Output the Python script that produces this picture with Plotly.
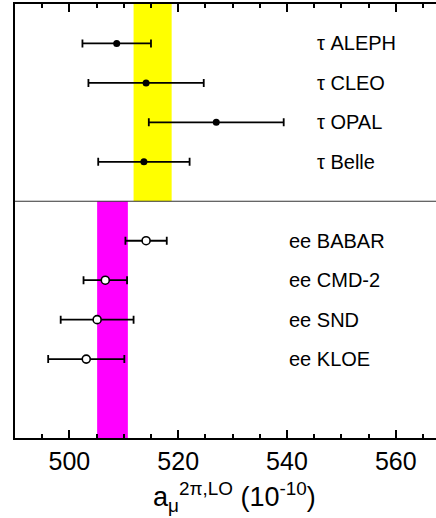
import plotly.graph_objects as go

# tau-based measurements (top panel)
tau_labels = ["τ ALEPH", "τ CLEO", "τ OPAL", "τ Belle"]
tau_vals = [508.7, 514.1, 527.0, 513.7]
tau_err = [6.3, 10.6, 12.4, 8.4]
tau_rows = [1, 2, 3, 4]

# e+e- based measurements (bottom panel)
ee_labels = ["ee BABAR", "ee CMD-2", "ee SND", "ee KLOE"]
ee_vals = [514.1, 506.6, 505.1, 503.1]
ee_err = [3.8, 4.0, 6.7, 7.0]
ee_rows = [6, 7, 8, 9]

# averages (bands)
tau_band = [511.8, 518.8]
ee_band = [505.1, 510.75]

x_ticks = [500, 520, 540, 560]

FONT = "Liberation Sans, Arial, sans-serif"

fig = go.Figure()

fig.add_trace(go.Scatter(
    x=tau_vals, y=tau_rows, mode="markers",
    marker=dict(symbol="circle", size=7, color="black"),
    error_x=dict(type="data", array=tau_err, color="black", thickness=1.8, width=4),
    showlegend=False, cliponaxis=False,
))
fig.add_trace(go.Scatter(
    x=ee_vals, y=ee_rows, mode="markers",
    marker=dict(symbol="circle", size=8, color="white", line=dict(color="black", width=1.6)),
    error_x=dict(type="data", array=ee_err, color="black", thickness=1.8, width=4),
    showlegend=False, cliponaxis=False,
))

fig.add_shape(type="rect", xref="x", yref="y", x0=tau_band[0], x1=tau_band[1], y0=0, y1=5,
              fillcolor="#FFFF00", line=dict(width=0), layer="below")
fig.add_shape(type="rect", xref="x", yref="y", x0=ee_band[0], x1=ee_band[1], y0=5, y1=11,
              fillcolor="#FF00FF", line=dict(width=0), layer="below")
fig.add_shape(type="line", xref="paper", yref="y", x0=0, x1=1, y0=5, y1=5,
              line=dict(color="#333333", width=1.2))

for lab, r in zip(tau_labels, tau_rows):
    fig.add_annotation(x=545.1, y=r, text=lab, xref="x", yref="y", showarrow=False,
                       xanchor="left", yanchor="middle", font=dict(size=20, color="black", family=FONT))
for lab, r in zip(ee_labels, ee_rows):
    fig.add_annotation(x=540.0, y=r, text=lab, xref="x", yref="y", showarrow=False,
                       xanchor="left", yanchor="middle", font=dict(size=20, color="black", family=FONT))

fig.add_annotation(x=530.3, y=-0.135, xref="x", yref="paper", yanchor="middle",
                   text="a<sub>μ</sub><sup>2π,LO</sup> (10<sup>-10</sup>)", showarrow=False,
                   font=dict(size=27, color="black", family=FONT))

fig.update_xaxes(
    range=[490, 567.4], tickvals=x_ticks, ticktext=[str(v) for v in x_ticks],
    ticks="inside", ticklen=8, tickwidth=1.5, tickcolor="black",
    minor=dict(ticks="inside", dtick=5, tick0=0, ticklen=4, tickwidth=1.5, tickcolor="black"),
    showline=True, linecolor="black", linewidth=1.6, mirror="ticks",
    showgrid=False, zeroline=False,
    tickfont=dict(size=25, color="black", family=FONT),
)
fig.update_yaxes(
    range=[11, 0], showticklabels=False, ticks="", showline=True, linecolor="black",
    linewidth=1.6, mirror=False, showgrid=False, zeroline=False,
)

fig.update_layout(
    width=436, height=518,
    margin=dict(l=15, r=0, t=4, b=80),
    paper_bgcolor="white", plot_bgcolor="white",
    font=dict(family=FONT, color="black"),
)

fig.write_html("out.html", config={"displayModeBar": False},
               post_script="document.body.style.margin='0';document.body.style.overflow='hidden';")
